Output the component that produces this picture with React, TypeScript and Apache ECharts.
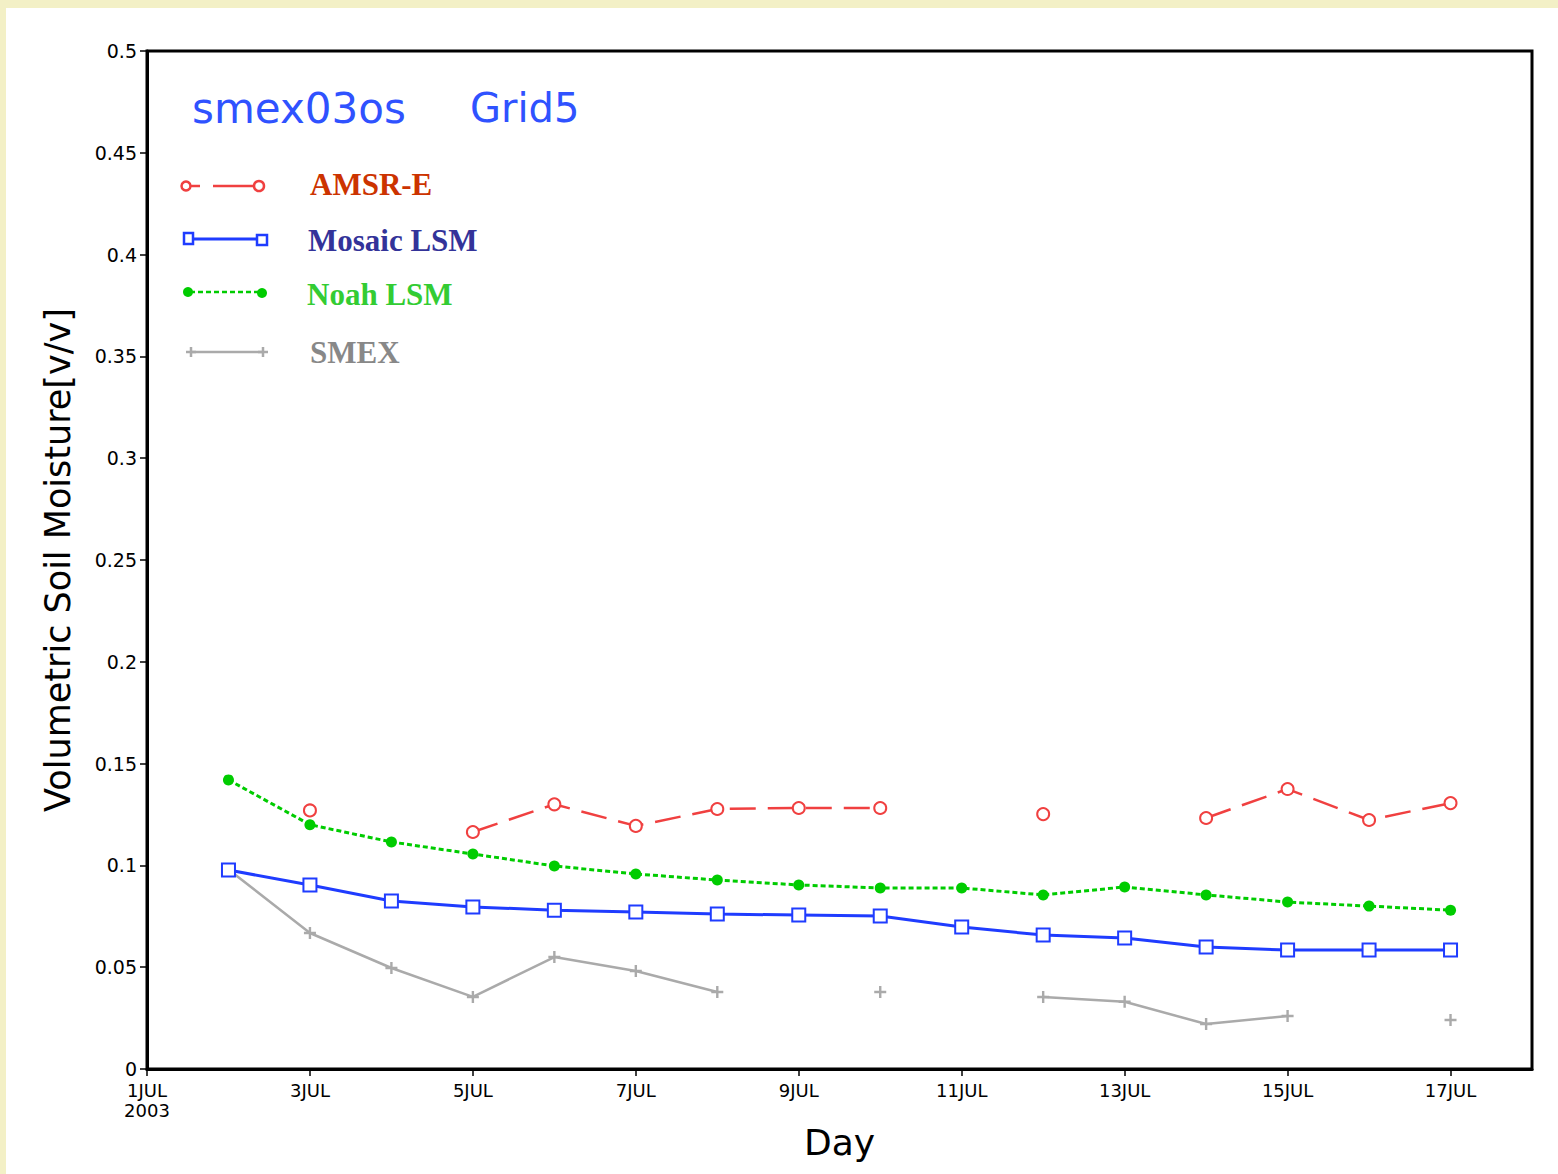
import React, { useEffect, useRef } from "react";
import * as echarts from "echarts";

const days = ["1", "2", "3", "4", "5", "6", "7", "8", "9", "10", "11", "12", "13", "14", "15", "16", "17", "18"];
const amsrE = [null, null, 0.127, null, 0.1164, 0.130, 0.1194, 0.1277, 0.1282, 0.1282, null, 0.1252, null, 0.1233, 0.1375, 0.1223, 0.1306, null];
const mosaicLSM = [null, 0.0977, 0.0904, 0.0825, 0.0796, 0.078, 0.0771, 0.0761, 0.0756, 0.0751, 0.0697, 0.0658, 0.0643, 0.0599, 0.0584, 0.0584, 0.0584, null];
const noahLSM = [null, 0.142, 0.120, 0.1115, 0.1056, 0.0997, 0.0958, 0.0928, 0.0904, 0.0889, 0.0889, 0.0855, 0.0894, 0.0855, 0.082, 0.080, 0.078, null];
const smex = [null, 0.098, 0.0668, 0.0496, 0.0354, 0.055, 0.0481, 0.0378, null, 0.0378, null, 0.0354, 0.033, 0.0221, 0.026, null, 0.0241, null];

const titleLeft = "smex03os";
const titleRight = "Grid5";
const legendNames = ["AMSR-E", "Mosaic LSM", "Noah LSM", "SMEX"];

const OX = 6;
const OY = 8;
const px = (x: number) => x - OX;
const py = (y: number) => y - OY;

const RED = "#f04040";
const BLUE = "#1f3cff";
const GREEN = "#00cc00";
const GRAY = "#aaaaaa";
const PLUS = "path://M4,0H6V4H10V6H6V10H4V6H0V4H4Z";

export default function App() {
  const ref = useRef<HTMLDivElement>(null);
  useEffect(() => {
    if (!ref.current) return;
    const chart = echarts.init(ref.current, null, { renderer: "svg" });
    const legendFont = { fontSize: 31, fontFamily: '"Liberation Serif", "Times New Roman", serif', fontWeight: "bold" as const, verticalAlign: "middle" as const };
    const plus = (x: number, y: number) => [
      { type: "line", shape: { x1: px(x - 5), y1: py(y), x2: px(x + 5), y2: py(y) }, style: { stroke: GRAY, lineWidth: 2.5 } },
      { type: "line", shape: { x1: px(x), y1: py(y - 5), x2: px(x), y2: py(y + 5) }, style: { stroke: GRAY, lineWidth: 2.5 } },
    ];
    chart.setOption({
      animation: false,
      backgroundColor: "#ffffff",
      grid: { left: 141, top: 43, width: 1385, height: 1018, show: true, borderColor: "#000", borderWidth: 3, containLabel: false },
      xAxis: {
        type: "category",
        data: days,
        boundaryGap: false,
        name: "Day",
        nameLocation: "middle",
        nameGap: 41,
        nameTextStyle: { fontSize: 36, fontFamily: '"DejaVu Sans"', color: "#000" },
        axisLine: { lineStyle: { color: "#000", width: 3 } },
        axisTick: { interval: 1, length: 7, lineStyle: { color: "#000", width: 1.5 } },
        axisLabel: {
          interval: 1,
          margin: 11,
          color: "#000",
          fontSize: 18,
          lineHeight: 20,
          fontFamily: '"DejaVu Sans"',
          formatter: (v: string, i: number) => (i === 0 ? "1JUL\n2003" : v + "JUL"),
        },
        splitLine: { show: false },
      },
      yAxis: {
        type: "value",
        min: 0,
        max: 0.5,
        interval: 0.05,
        name: "Volumetric Soil Moisture[v/v]",
        nameLocation: "middle",
        nameRotate: 90,
        nameGap: 72,
        nameTextStyle: { fontSize: 35, fontFamily: '"DejaVu Sans"', color: "#000" },
        axisLine: { show: true, lineStyle: { color: "#000", width: 3 } },
        axisTick: { show: true, length: 7, lineStyle: { color: "#000", width: 1.5 } },
        axisLabel: {
          margin: 10,
          color: "#000",
          fontSize: 19,
          lineHeight: 16,
          fontFamily: '"DejaVu Sans"',
          formatter: (v: number) => String(+v.toFixed(2)),
        },
        splitLine: { show: false },
      },
      series: [
        {
          name: "SMEX",
          type: "line",
          data: smex,
          symbol: PLUS,
          symbolSize: 12,
          lineStyle: { color: GRAY, width: 2.5 },
          itemStyle: { color: GRAY },
          z: 2,
        },
        {
          name: "Noah LSM",
          type: "line",
          data: noahLSM,
          symbol: "circle",
          symbolSize: 11,
          lineStyle: { color: GREEN, width: 3, type: [5, 3] },
          itemStyle: { color: GREEN },
          z: 3,
        },
        {
          name: "Mosaic LSM",
          type: "line",
          data: mosaicLSM,
          symbol: "emptyRect",
          symbolSize: 13,
          lineStyle: { color: BLUE, width: 3 },
          itemStyle: { color: BLUE, borderWidth: 3 },
          z: 4,
        },
        {
          name: "AMSR-E",
          type: "line",
          data: amsrE,
          symbol: "emptyCircle",
          symbolSize: 12,
          lineStyle: { color: RED, width: 2.5, type: [26, 12] },
          itemStyle: { color: RED, borderWidth: 2.5 },
          z: 5,
        },
      ],
      graphic: [
        { type: "text", x: px(192), y: py(108), style: { text: titleLeft, fontSize: 42, fontFamily: '"DejaVu Sans"', fill: "#2f52ff", verticalAlign: "middle" } },
        { type: "text", x: px(470), y: py(108), style: { text: titleRight, fontSize: 40, fontFamily: '"DejaVu Sans"', fill: "#2f52ff", verticalAlign: "middle" } },
        // AMSR-E legend
        { type: "line", shape: { x1: px(191), y1: py(186), x2: px(200), y2: py(186) }, style: { stroke: RED, lineWidth: 2.5 } },
        { type: "line", shape: { x1: px(213), y1: py(186), x2: px(253), y2: py(186) }, style: { stroke: RED, lineWidth: 2.5 } },
        { type: "circle", shape: { cx: px(186), cy: py(186), r: 4.5 }, style: { fill: "#fff", stroke: RED, lineWidth: 2.5 } },
        { type: "circle", shape: { cx: px(259), cy: py(186), r: 5 }, style: { fill: "#fff", stroke: RED, lineWidth: 2.5 } },
        { type: "text", x: px(310), y: py(184), style: { text: legendNames[0], fill: "#cc3300", ...legendFont } },
        // Mosaic legend
        { type: "line", shape: { x1: px(192), y1: py(239), x2: px(257), y2: py(239) }, style: { stroke: BLUE, lineWidth: 3 } },
        { type: "rect", shape: { x: px(184), y: py(233), width: 9, height: 11 }, style: { fill: "#fff", stroke: BLUE, lineWidth: 2.5 } },
        { type: "rect", shape: { x: px(257), y: py(235), width: 10, height: 10 }, style: { fill: "#fff", stroke: BLUE, lineWidth: 2.5 } },
        { type: "text", x: px(308), y: py(240), style: { text: legendNames[1], fill: "#333399", ...legendFont } },
        // Noah legend
        { type: "line", shape: { x1: px(190), y1: py(292), x2: px(260), y2: py(292) }, style: { stroke: GREEN, lineWidth: 2.5, lineDash: [5, 3] } },
        { type: "circle", shape: { cx: px(188), cy: py(292), r: 5 }, style: { fill: GREEN } },
        { type: "circle", shape: { cx: px(262), cy: py(293), r: 5 }, style: { fill: GREEN } },
        { type: "text", x: px(307), y: py(294), style: { text: legendNames[2], fill: "#33cc33", ...legendFont } },
        // SMEX legend
        { type: "line", shape: { x1: px(190), y1: py(352), x2: px(264), y2: py(352) }, style: { stroke: GRAY, lineWidth: 2.5 } },
        ...plus(191, 352),
        ...plus(263, 352),
        { type: "text", x: px(310), y: py(352), style: { text: legendNames[3], fill: "#888888", ...legendFont } },
      ],
    });
    return () => chart.dispose();
  }, []);
  return (
    <div style={{ position: "fixed", left: 0, top: 0, width: 1558, height: 1174, background: "#f3f0c6" }}>
      <div
        ref={ref}
        style={{ position: "absolute", left: OX, top: OY, width: 1558 - OX, height: 1174 - OY, background: "#fff" }}
      />
    </div>
  );
}
